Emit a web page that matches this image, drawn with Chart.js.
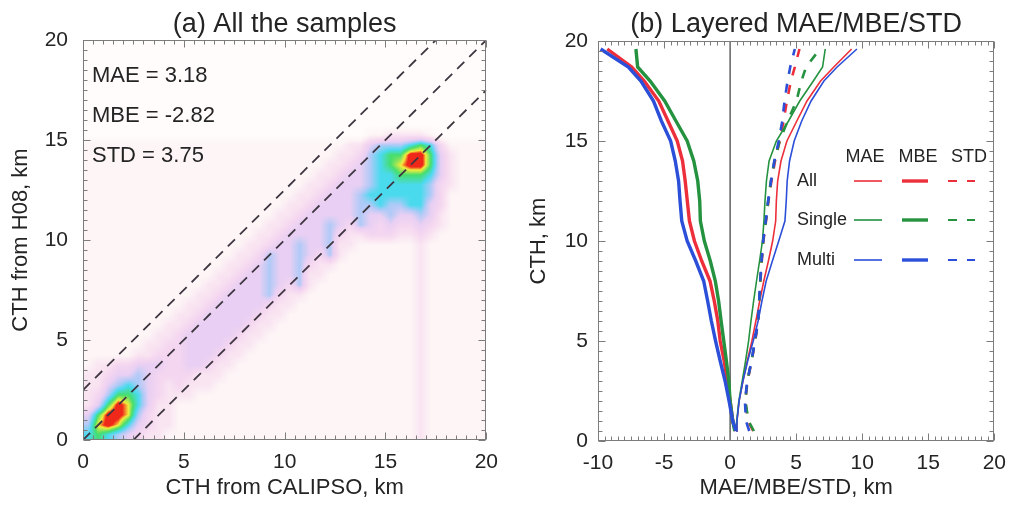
<!DOCTYPE html>
<html>
<head>
<meta charset="utf-8">
<title>CTH validation</title>
<script src="https://cdn.jsdelivr.net/npm/chart.js@4.4.1/dist/chart.umd.min.js"></script>
<style>
  html, body { margin: 0; padding: 0; background: #fff; }
  #wrap { position: relative; width: 1016px; height: 507px; overflow: hidden; }
  #wrap canvas { position: absolute; top: 0; width: 508px; height: 507px; }
  #panel-a { left: 0; }
  #panel-b { left: 508px; }
</style>
</head>
<body>
<div id="wrap">
  <canvas id="panel-a" width="508" height="507"></canvas>
  <canvas id="panel-b" width="508" height="507"></canvas>
</div>
<script>
// ---------- (a) joint histogram, 0.5 km bins, level 0 (empty) .. 9 (peak) ----------
// first row = 19.5-20 km, last row = 0-0.5 km; one char per CALIPSO bin
const CTH_MIN = 0;
const CTH_MAX = 20;
const DENSITY_ROWS = [
  '0000000000000000000000000000000000000000',
  '0000000000000000000000000000000000000000',
  '0000000000000000000000000000000000000000',
  '0000000000000000000000000000000000000000',
  '0000000000000000000000000000000000000000',
  '0000000000000000000000000000000000000000',
  '0000000000000000000000000000000000000000',
  '0000000000000000000000000000000000000000',
  '0000000000000000000000000000000000000000',
  '0000000000' + '0000000000' + '0000000011' + '2222100000',
  '1111111111' + '1111111111' + '1111112245' + '5567631111',
  '1111111111' + '1111111111' + '1111122356' + '7799742111',
  '1111111111' + '1111111111' + '1111223456' + '7899742111',
  '1111111111' + '1111111111' + '1112234456' + '6777642111',
  '1111111111' + '1111111111' + '1122344456' + '6666532111',
  '1111111111' + '1111111111' + '1223444566' + '6666531111',
  '1111111111' + '1111111111' + '2234444556' + '5566431111',
  '1111111111' + '1111111112' + '2344444544' + '5445421111',
  '1111111111' + '1111111122' + '3444543543' + '4334321111',
  '1111111111' + '1111111223' + '4444532233' + '3223211111',
  '1111111111' + '1111112234' + '4544522111' + '1112111111',
  '1111111111' + '1111122354' + '4543521111' + '1112111111',
  '1111111111' + '1111223454' + '4532211111' + '1112111111',
  '1111111111' + '1112234454' + '4522111111' + '1112111111',
  '1111111111' + '1122344454' + '3521111111' + '1112111111',
  '1111111111' + '1223444453' + '2211111111' + '1112111111',
  '1111111111' + '2234444432' + '2111111111' + '1112111111',
  '1111111112' + '2344444322' + '1111111111' + '1112111111',
  '1111111122' + '3444443221' + '1111111111' + '1112111111',
  '1111111223' + '4444432211' + '1111111111' + '1112111111',
  '1111112233' + '4444322111' + '1111111111' + '1112111111',
  '1111122333' + '4443221111' + '1111111111' + '1112111111',
  '1223344433' + '4432211111' + '1111111111' + '1112111111',
  '2234454333' + '3222111111' + '1111111111' + '1112111111',
  '2245654323' + '2221111111' + '1111111111' + '1112111111',
  '2357764322' + '2111111111' + '1111111111' + '1112111111',
  '2479864221' + '1111111111' + '1111111111' + '1112111111',
  '4799853221' + '1111111111' + '1111111111' + '1112111111',
  '5898643221' + '1111111111' + '1111111111' + '1112111111',
  '6765432211' + '1111111111' + '1111111111' + '1112111111'
];
const REF_OFFSETS = [2.5, 0, -2.5];            // y = x + offset
const STAT_NAMES = ['MAE', 'MBE', 'STD'];
const STAT_VALUES = ['3.18', '-2.82', '3.75'];

// ---------- (b) layered error profiles ----------
const LAYER_HEIGHTS = [0.5, 1, 2, 3, 4, 5, 6, 7, 8, 9, 10, 11, 12, 13, 14, 15, 16, 17, 18, 18.7, 19.6];
const MAE_ALL    = [0.45, 0.52, 0.68, 0.97, 1.30, 1.65, 1.95, 2.24, 2.55, 2.90, 3.22, 3.45, 3.50, 3.60, 3.85, 4.30, 5.05, 5.82, 6.85, 7.85, 9.20];
const MAE_SINGLE = [0.42, 0.50, 0.66, 0.92, 1.17, 1.40, 1.58, 1.78, 2.00, 2.23, 2.45, 2.56, 2.64, 2.75, 2.95, 3.50, 4.42, 5.27, 6.30, 7.00, 7.20];
const MAE_MULTI  = [0.45, 0.52, 0.68, 0.97, 1.33, 1.75, 2.12, 2.41, 2.73, 3.20, 3.68, 4.15, 4.25, 4.32, 4.50, 4.85, 5.42, 6.13, 7.10, 8.10, 9.60];
const MBE_ALL    = [0.40, 0.20, 0.00, -0.22, -0.45, -0.75, -0.93, -1.20, -1.52, -2.15, -2.70, -3.08, -3.24, -3.40, -3.60, -4.00, -4.70, -5.40, -6.50, -7.45, -9.30];
const MBE_SINGLE = [0.35, 0.20, 0.00, -0.10, -0.28, -0.48, -0.68, -0.87, -1.12, -1.50, -1.95, -2.25, -2.30, -2.45, -2.75, -3.25, -4.10, -4.95, -6.05, -7.00, -7.13];
const MBE_MULTI  = [0.45, 0.20, -0.08, -0.38, -0.75, -1.10, -1.42, -1.70, -2.00, -2.60, -3.25, -3.66, -3.79, -3.90, -4.15, -4.50, -5.20, -5.80, -6.75, -7.70, -9.80];
const STD_ALL    = [1.75, 1.35, 1.15, 1.32, 1.63, 1.90, 2.13, 2.22, 2.30, 2.40, 2.52, 2.72, 2.90, 3.13, 3.40, 3.75, 4.05, 4.30, 4.60, 4.90, 5.25];
const STD_SINGLE = [1.80, 1.40, 1.15, 1.30, 1.62, 1.88, 2.12, 2.20, 2.28, 2.38, 2.50, 2.70, 2.88, 3.08, 3.35, 3.75, 4.35, 5.02, 5.40, 5.75, 6.80];
const STD_MULTI  = [1.45, 1.20, 1.12, 1.30, 1.62, 1.88, 2.12, 2.20, 2.28, 2.38, 2.50, 2.70, 2.88, 3.10, 3.35, 3.68, 3.95, 4.12, 4.35, 4.55, 4.90];
const GROUPS = ['All', 'Single', 'Multi'];
const METRICS = ['MAE', 'MBE', 'STD'];

// ---------- styling ----------
const FONT = '"Liberation Sans", Arial, Helvetica, sans-serif';
const INK = '#242424';
const FRAME = '#7c7c7c';
const GROUP_COLORS = { All: '#ec2f3a', Single: '#24923f', Multi: '#2b4fd9' };
const METRIC_STYLE = {
  MAE: { borderWidth: 1.6, borderDash: [] },
  MBE: { borderWidth: 3.4, borderDash: [] },
  STD: { borderWidth: 2.6, borderDash: [9, 10] }
};
// level -> rgb, piecewise linear
const COLOR_STOPS = [
  [0, [255, 252, 251]],
  [1, [253, 245, 246]],
  [2, [249, 228, 241]],
  [3, [244, 214, 240]],
  [4, [232, 207, 243]],
  [5, [176, 202, 247]],
  [6, [74, 218, 238]],
  [7, [70, 222, 110]],
  [8, [244, 236, 60]],
  [8.6, [240, 40, 26]],
  [9, [240, 40, 26]]
];

Chart.defaults.font.family = FONT;
Chart.defaults.color = INK;

function colorAt(v) {
  if (v <= COLOR_STOPS[0][0]) return COLOR_STOPS[0][1];
  for (let k = 1; k < COLOR_STOPS.length; k++) {
    const [l1, c1] = COLOR_STOPS[k];
    if (v <= l1) {
      const [l0, c0] = COLOR_STOPS[k - 1];
      const t = (v - l0) / (l1 - l0);
      return [0, 1, 2].map(n => c0[n] + (c1[n] - c0[n]) * t);
    }
  }
  return COLOR_STOPS[COLOR_STOPS.length - 1][1];
}

// histogram painted under the datasets, sampled per pixel through the scales
const densityLayer = {
  id: 'densityLayer',
  beforeDatasetsDraw(chart) {
    const { ctx, chartArea: a, scales: { x, y } } = chart;
    const w = Math.round(a.right - a.left), h = Math.round(a.bottom - a.top);
    const rows = DENSITY_ROWS.length, cols = DENSITY_ROWS[0].length;
    const binX = (CTH_MAX - CTH_MIN) / cols, binY = (CTH_MAX - CTH_MIN) / rows;
    const level = (i, j) => +DENSITY_ROWS[rows - 1 - j][i] || 0;
    const off = document.createElement('canvas');
    off.width = w; off.height = h;
    const octx = off.getContext('2d');
    const img = octx.createImageData(w, h);
    const clamp = (v, lo, hi) => Math.max(lo, Math.min(hi, v));
    for (let py = 0; py < h; py++) {
      const gy = clamp((y.getValueForPixel(a.top + py + 0.5) - CTH_MIN) / binY - 0.5, 0, rows - 1);
      const j0 = Math.floor(gy), j1 = Math.min(rows - 1, j0 + 1), fy = gy - j0;
      for (let px = 0; px < w; px++) {
        const gx = clamp((x.getValueForPixel(a.left + px + 0.5) - CTH_MIN) / binX - 0.5, 0, cols - 1);
        const i0 = Math.floor(gx), i1 = Math.min(cols - 1, i0 + 1), fx = gx - i0;
        const v = (level(i0, j0) * (1 - fx) + level(i1, j0) * fx) * (1 - fy) +
                  (level(i0, j1) * (1 - fx) + level(i1, j1) * fx) * fy;
        const c = colorAt(v);
        const k = (py * w + px) * 4;
        img.data[k] = c[0]; img.data[k + 1] = c[1]; img.data[k + 2] = c[2]; img.data[k + 3] = 255;
      }
    }
    octx.putImageData(img, 0, 0);
    ctx.drawImage(off, a.left, a.top);
  }
};

// closed box with inward ticks on all four sides
const boxTicks = {
  id: 'boxTicks',
  afterDatasetsDraw(chart, _args, opts) {
    const { ctx, chartArea: a, scales: { x, y } } = chart;
    const L = Math.round(a.left) + 0.5, R = Math.round(a.right) - 0.5;
    const T = Math.round(a.top) + 0.5, B = Math.round(a.bottom) - 0.5;
    const isMajor = v => Math.abs(v / opts.major - Math.round(v / opts.major)) < 1e-6;
    ctx.save();
    ctx.strokeStyle = opts.color;
    ctx.lineWidth = 1;
    ctx.beginPath();
    const nx = Math.round((x.max - x.min) / opts.minor);
    for (let n = 0; n <= nx; n++) {
      const v = x.min + n * opts.minor;
      const p = Math.round(x.getPixelForValue(v)) + 0.5;
      const len = isMajor(v) ? opts.majorLen : opts.minorLen;
      ctx.moveTo(p, B); ctx.lineTo(p, B - len);
      ctx.moveTo(p, T); ctx.lineTo(p, T + len);
    }
    const ny = Math.round((y.max - y.min) / opts.minor);
    for (let n = 0; n <= ny; n++) {
      const v = y.min + n * opts.minor;
      const p = Math.round(y.getPixelForValue(v)) + 0.5;
      const len = isMajor(v) ? opts.majorLen : opts.minorLen;
      ctx.moveTo(L, p); ctx.lineTo(L + len, p);
      ctx.moveTo(R, p); ctx.lineTo(R - len, p);
    }
    ctx.stroke();
    ctx.strokeRect(L, T, R - L, B - T);
    ctx.restore();
  }
};

const panelTitle = {
  id: 'panelTitle',
  afterDraw(chart, _args, opts) {
    const { ctx, chartArea: a } = chart;
    ctx.save();
    ctx.font = `${opts.size}px ${FONT}`;
    ctx.fillStyle = INK;
    ctx.textAlign = 'center';
    ctx.textBaseline = 'alphabetic';
    ctx.fillText(opts.text, (a.left + a.right) / 2, opts.baseline);
    ctx.restore();
  }
};

const statsText = {
  id: 'statsText',
  afterDraw(chart) {
    const { ctx, chartArea: a } = chart;
    ctx.save();
    ctx.font = `22px ${FONT}`;
    ctx.fillStyle = INK;
    ctx.textBaseline = 'alphabetic';
    STAT_NAMES.forEach((name, k) => {
      ctx.fillText(`${name} = ${STAT_VALUES[k]}`, a.left + 9, a.top + 42 + k * 40);
    });
    ctx.restore();
  }
};

// metric x group key drawn inside panel (b)
const profileKey = {
  id: 'profileKey',
  afterDraw(chart) {
    const { ctx } = chart;
    const cols = { MAE: [346, 374], MBE: [394, 420], STD: [440, 467] };
    const rowsY = [181, 220, 260];
    ctx.save();
    ctx.font = `18px ${FONT}`;
    ctx.fillStyle = INK;
    ctx.textAlign = 'center';
    ctx.textBaseline = 'alphabetic';
    ctx.fillText('MAE', 357, 162);
    ctx.fillText('MBE', 410, 162);
    ctx.fillText('STD', 461, 162);
    ctx.textAlign = 'left';
    GROUPS.forEach((g, r) => {
      const yy = rowsY[r];
      ctx.fillStyle = INK;
      ctx.fillText(g, 289, yy + 5);
      METRICS.forEach(m => {
        const st = METRIC_STYLE[m];
        ctx.strokeStyle = GROUP_COLORS[g];
        ctx.lineWidth = m === 'STD' ? 2 : st.borderWidth;
        ctx.setLineDash(st.borderDash);
        ctx.beginPath();
        ctx.moveTo(cols[m][0], yy);
        ctx.lineTo(cols[m][1], yy);
        ctx.stroke();
      });
    });
    ctx.restore();
  }
};

function refLine(off) {
  return [
    { x: Math.max(CTH_MIN, CTH_MIN - off), y: Math.max(CTH_MIN, CTH_MIN + off) },
    { x: Math.min(CTH_MAX, CTH_MAX - off), y: Math.min(CTH_MAX, CTH_MAX + off) }
  ];
}

function axis(min, max, title, tickPad, titlePad, fitSize, horizontal) {
  return {
    type: 'linear', min, max,
    grid: { display: false, drawTicks: false },
    border: { display: false },
    ticks: { stepSize: 5, padding: tickPad, font: { size: 21 }, color: INK, maxRotation: 0 },
    title: { display: true, text: title, font: { size: 22, lineHeight: 1.2 }, color: INK, padding: titlePad },
    afterFit: s => { if (horizontal) s.height = fitSize; else s.width = fitSize; }
  };
}

const common = {
  responsive: false,
  animation: false,
  events: [],
  plugins: { legend: { display: false }, tooltip: { enabled: false } }
};

new Chart(document.getElementById('panel-a'), {
  type: 'line',
  data: {
    datasets: REF_OFFSETS.map(off => ({
      data: refLine(off),
      borderColor: '#3e3741',
      borderWidth: 1.8,
      borderDash: [10, 7],
      pointRadius: 0,
      tension: 0
    }))
  },
  options: {
    ...common,
    layout: { padding: { left: 0, right: 20, top: 40, bottom: 0 } },
    scales: {
      x: axis(CTH_MIN, CTH_MAX, 'CTH from CALIPSO, km', 10, { top: 0, bottom: 6 }, 67, true),
      y: axis(CTH_MIN, CTH_MAX, 'CTH from H08, km', 15, { top: 8, bottom: 0 }, 83, false)
    },
    plugins: {
      ...common.plugins,
      boxTicks: { minor: 0.5, major: 5, majorLen: 7, minorLen: 4, color: FRAME },
      panelTitle: { text: '(a) All the samples', size: 27, baseline: 32 }
    }
  },
  plugins: [densityLayer, boxTicks, panelTitle, statsText]
});

const SERIES = {
  All: { MAE: MAE_ALL, MBE: MBE_ALL, STD: STD_ALL },
  Single: { MAE: MAE_SINGLE, MBE: MBE_SINGLE, STD: STD_SINGLE },
  Multi: { MAE: MAE_MULTI, MBE: MBE_MULTI, STD: STD_MULTI }
};
const GROUP_ORDER = { All: 3, Single: 2, Multi: 1 };

const profileSets = [];
GROUPS.forEach(g => {
  METRICS.forEach(m => {
    profileSets.push({
      label: `${g} ${m}`,
      data: LAYER_HEIGHTS.map((h, k) => ({ x: SERIES[g][m][k], y: h })),
      borderColor: GROUP_COLORS[g],
      borderWidth: METRIC_STYLE[m].borderWidth,
      borderDash: METRIC_STYLE[m].borderDash,
      pointRadius: 0,
      tension: 0,
      order: GROUP_ORDER[g]
    });
  });
});

new Chart(document.getElementById('panel-b'), {
  type: 'line',
  data: {
    datasets: [
      { label: 'zero', data: [{ x: 0, y: CTH_MIN }, { x: 0, y: CTH_MAX }], borderColor: '#3a3a3a', borderWidth: 1.2, pointRadius: 0, order: 10 },
      ...profileSets
    ]
  },
  options: {
    ...common,
    layout: { padding: { left: 0, right: 14, top: 41, bottom: 0 } },
    scales: {
      x: axis(-10, 20, 'MAE/MBE/STD, km', 10, { top: 0, bottom: 6 }, 66, true),
      y: axis(CTH_MIN, CTH_MAX, 'CTH, km', 10, { top: 18, bottom: 0 }, 90, false)
    },
    plugins: {
      ...common.plugins,
      boxTicks: { minor: 0.5, major: 5, majorLen: 7, minorLen: 4, color: FRAME },
      panelTitle: { text: '(b) Layered MAE/MBE/STD', size: 27, baseline: 32 }
    }
  },
  plugins: [boxTicks, panelTitle, profileKey]
});
</script>
</body>
</html>
